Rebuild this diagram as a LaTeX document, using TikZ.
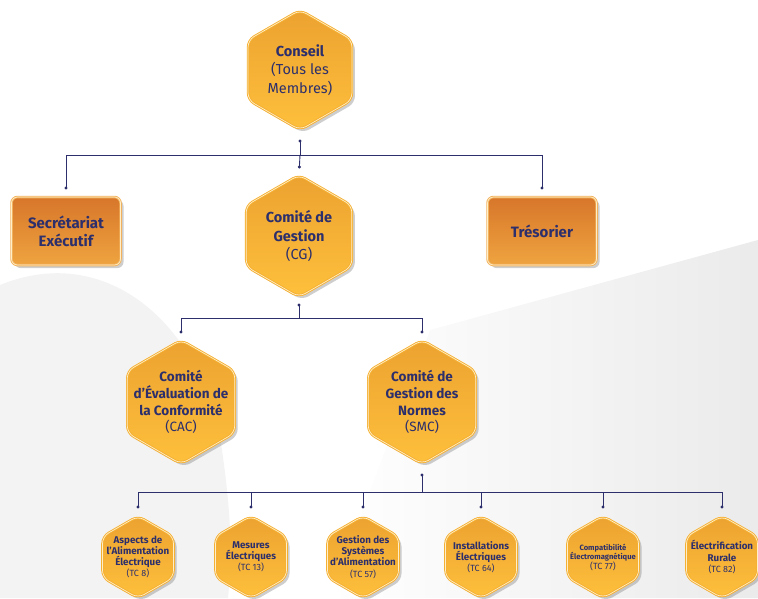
\documentclass[tikz,border=0pt]{standalone}
\usepackage{fontspec}
\setmainfont{Fira Sans}
\usetikzlibrary{shapes.geometric,shadows,arrows.meta,positioning}
\definecolor{marine}{RGB}{44,47,108}
\definecolor{orhaut}{RGB}{236,162,48}
\definecolor{orbas}{RGB}{254,192,60}
\definecolor{orbord}{RGB}{245,176,50}
\definecolor{creme}{RGB}{255,238,200}
\definecolor{orangehaut}{RGB}{215,118,42}
\definecolor{orangebas}{RGB}{239,164,64}
\definecolor{fond}{RGB}{243,243,244}
\tikzset{
  ombre/.style={drop shadow={shadow xshift=3pt,shadow yshift=-3pt,opacity=.35,fill=black!55}},
  hexa/.style={regular polygon,regular polygon sides=6,shape border rotate=30,
    minimum size=#1,inner sep=0pt,rounded corners=7pt,top color=orhaut,bottom color=orbas,
    draw=orbord,double=creme,double distance=0.7pt,line width=0.9pt,ombre},
  boite/.style={rectangle,rounded corners=6pt,minimum width=109pt,minimum height=68pt,
    top color=orangehaut,bottom color=orangebas,draw=orangebas!85!white,double=creme,
    double distance=0.7pt,line width=0.9pt,ombre,align=center,text=marine,
    font=\bfseries\fontsize{15}{18}\selectfont},
  grandtexte/.style={align=center,text=marine,inner sep=0pt,font=\bfseries\fontsize{14.5}{18.5}\selectfont},
  moyentexte/.style={align=center,text=marine,inner sep=0pt,font=\bfseries\fontsize{13.5}{16.7}\selectfont},
  petittexte/.style={align=center,text=marine,inner sep=0pt,font=\bfseries\fontsize{9.8}{11.2}\selectfont},
  lien/.style={draw=marine,line width=0.9pt},
  point/.style={-{Circle[length=3pt]}},
  depart/.style={{Circle[length=3pt]}-}
}
\newcommand\tc[1]{\mdseries\fontsize{9}{11}\selectfont(TC #1)}
\begin{document}
\begin{tikzpicture}[x=1pt,y=-1pt]
  \useasboundingbox (0,0) rectangle (758,598);
  \clip (0,0) rectangle (758,598);
  % fond gris
  \fill[fond] (0,285) .. controls (110,240) and (205,330) .. (222,450) .. controls (232,520) and (232,560) .. (228,598) -- (0,598) -- cycle;
  \shade[left color=white,right color=black!8] (330,598) -- (430,330) -- (758,240) -- (758,598) -- cycle;

  % niveau 1
  \node[hexa=120pt,label={[grandtexte]center:{Conseil\\\mdseries(Tous les\\\mdseries Membres)}}] (conseil) at (300,70) {};
  % niveau 2
  \node[boite] (secr) at (66,231) {Secrétariat\\Exécutif};
  \node[hexa=122pt,label={[grandtexte]center:{Comité de\\Gestion\\\mdseries(CG)}}] (cg) at (299,236) {};
  \node[boite] (tres) at (542,231) {Trésorier};
  % niveau 3
  \node[hexa=124pt,label={[moyentexte]center:{Comité\\d’Évaluation de\\la Conformité\\\mdseries(CAC)}}] (cac) at (181,402) {};
  \node[hexa=124pt,label={[moyentexte]center:{Comité de\\Gestion des\\Normes\\\mdseries(SMC)}}] (smc) at (422,402) {};
  % comites techniques
  \node[hexa=82pt,label={[petittexte]center:{Aspects de\\l’Alimentation\\Électrique\\\tc{8}}}] (tc8) at (138,557) {};
  \node[hexa=82pt,label={[petittexte]center:{Mesures\\Électriques\\\tc{13}}}] (tc13) at (251,557) {};
  \node[hexa=82pt,label={[petittexte]center:{Gestion des\\Systèmes\\d’Alimentation\\\tc{57}}}] (tc57) at (363,557) {};
  \node[hexa=82pt,label={[petittexte]center:{Installations\\Électriques\\\tc{64}}}] (tc64) at (481,557) {};
  \node[hexa=82pt,label={[petittexte,font=\bfseries\fontsize{7.6}{9.5}\selectfont]center:{Compatibilité\\Électromagnétique\\\tc{77}}}] (tc77) at (603,557) {};
  \node[hexa=82pt,label={[petittexte]center:{Électrification\\Rurale\\\tc{82}}}] (tc82) at (722,557) {};

  % liaisons
  \coordinate (barre1) at (300,155);
  \coordinate (barre2) at (299,318);
  \coordinate (barre3) at (422,492);
  \draw[lien,depart,shorten <=9pt] (conseil.south) -- (barre1);
  \draw[lien] (secr.north |- barre1) -- (tres.north |- barre1);
  \draw[lien,point,shorten >=7pt] (secr.north |- barre1) -- (secr.north);
  \draw[lien,point,shorten >=6pt] (barre1) -- (cg.north);
  \draw[lien,point,shorten >=7pt] (tres.north |- barre1) -- (tres.north);

  \draw[lien,depart,shorten <=6pt] (cg.south) -- (barre2);
  \draw[lien] (cac.north |- barre2) -- (smc.north |- barre2);
  \foreach \n in {cac,smc}
    \draw[lien,point,shorten >=6pt] (\n.north |- barre2) -- (\n.north);

  \draw[lien,depart,shorten <=9pt] (smc.south) -- (barre3);
  \draw[lien] (tc8.north |- barre3) -- (tc82.north |- barre3);
  \foreach \n in {tc8,tc13,tc57,tc64,tc77,tc82}
    \draw[lien,point,shorten >=7pt] (\n.north |- barre3) -- (\n.north);
\end{tikzpicture}
\end{document}
